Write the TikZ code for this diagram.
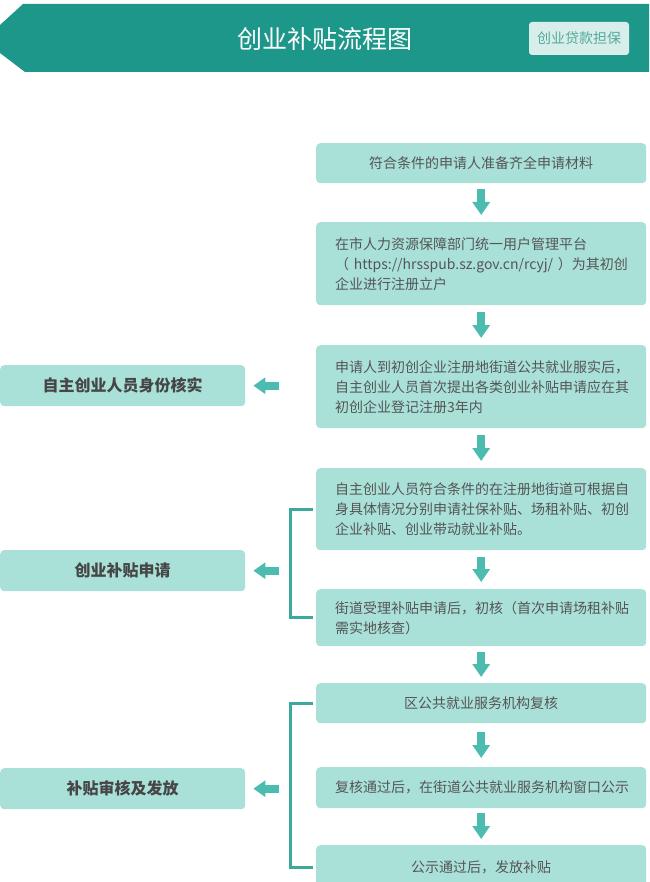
\documentclass[tikz,border=0pt]{standalone}
\usepackage{fontspec}
\setmainfont{Noto Sans CJK SC}
\usetikzlibrary{arrows.meta,calc}
\definecolor{hdr}{HTML}{1D978A}
\definecolor{boxfill}{HTML}{A9E1D9}
\definecolor{arr}{HTML}{4DBCB0}
\definecolor{brkc}{HTML}{3BAA9D}
\definecolor{txt}{HTML}{555555}
\definecolor{ltxt}{HTML}{464646}
\definecolor{btnfill}{HTML}{D8EEEA}
\definecolor{btntxt}{HTML}{55A99D}
\begin{document}
\begin{tikzpicture}[x=1pt,y=-1pt,
  rbox/.style={fill=boxfill, rounded corners=4pt, anchor=north west,
    minimum width=330pt, inner xsep=19pt, inner ysep=0pt, text width=292pt,
    text=txt, font=\fontsize{14}{20}\selectfont},
  lbox/.style={fill=boxfill, rounded corners=4pt, anchor=north west,
    minimum width=245pt, minimum height=41pt, inner sep=0pt,
    text=ltxt, font=\fontsize{16}{20}\selectfont\bfseries},
  darr/.style={arr, line width=8pt, -{Triangle[width=17pt,length=13pt]}},
  larr/.style={arr, line width=8pt, -{Triangle[width=16pt,length=12pt]}},
  brkline/.style={brkc, line width=3pt}]
\useasboundingbox (0,0) rectangle (649,882);
\fill[white] (0,0) rectangle (649,882);
% header
\fill[hdr] (23,4) -- (649,4) -- (649,72) -- (25,72) -- (0,53) -- (0,25) -- cycle;
\node[text=white, font=\fontsize{25}{28}\selectfont] (title) at (325,39) {创业补贴流程图};
\node[fill=btnfill, rounded corners=3pt, minimum width=100pt, minimum height=33pt,
  inner sep=0pt, text=btntxt, font=\fontsize{14}{16}\selectfont] (btn) at (579,38.5) {创业贷款担保};
% right column
\node[rbox, minimum height=40pt, align=center] (b1) at (316,143) {符合条件的申请人准备齐全申请材料};
\node[rbox, minimum height=83pt, align=left] (b2) at (316,222)
  {在市人力资源保障部门统一用户管理平台\\\mbox{（ https://hrsspub.sz.gov.cn/rcyj/ ）为其初创}\\企业进行注册立户};
\node[rbox, minimum height=83pt, align=left] (b3) at (316,345)
  {申请人到初创企业注册地街道公共就业服实后，\\自主创业人员首次提出各类创业补贴申请应在其\\初创企业登记注册3年内};
\node[rbox, minimum height=82pt, align=left] (b4) at (316,468)
  {自主创业人员符合条件的在注册地街道可根据自\\身具体情况分别申请社保补贴、场租补贴、初创\\企业补贴、创业带动就业补贴。};
\node[rbox, minimum height=57pt, align=left] (b5) at (316,589)
  {街道受理补贴申请后，初核（首次申请场租补贴\\需实地核查）};
\node[rbox, minimum height=40pt, align=center] (b6) at (316,683) {区公共就业服务机构复核};
\node[rbox, minimum height=41pt, align=center] (b7) at (316,767) {复核通过后，在街道公共就业服务机构窗口公示};
\node[rbox, minimum height=45pt, align=center] (b8) at (316,845) {公示通过后，发放补贴};
% left column
\node[lbox] (la) at (0,365) {自主创业人员身份核实};
\node[lbox] (lb) at (0,550) {创业补贴申请};
\node[lbox] (lc) at (0,768) {补贴审核及发放};
% down arrows
\draw[darr] ($(b1.south)+(0,6)$) -- ($(b2.north)+(0,-7)$);
\draw[darr] ($(b2.south)+(0,7)$) -- ($(b3.north)+(0,-7)$);
\draw[darr] ($(b3.south)+(0,7)$) -- ($(b4.north)+(0,-7)$);
\draw[darr] ($(b4.south)+(0,7)$) -- ($(b5.north)+(0,-7)$);
\draw[darr] ($(b5.south)+(0,6)$) -- ($(b6.north)+(0,-6)$);
\draw[darr] ($(b6.south)+(0,9)$) -- ($(b7.north)+(0,-9)$);
\draw[darr] ($(b7.south)+(0,5)$) -- ($(b8.north)+(0,-6)$);
% left arrows
\draw[larr] ($(la.east)+(34,0)$) -- ($(la.east)+(8,0)$);
\draw[larr] ($(lb.east)+(34,0)$) -- ($(lb.east)+(8,0)$);
\draw[larr] ($(lc.east)+(34,0)$) -- ($(lc.east)+(8,0)$);
% brackets
\draw[brkline] ($(b4.west)+(-3,0)$) -- ++(-23,0) |- ($(b5.west)+(-3,0)$);
\draw[brkline] ($(b6.west)+(-3,0)$) -- ++(-23,0) |- ($(b8.west)+(-3,0)$);
\end{tikzpicture}
\end{document}
